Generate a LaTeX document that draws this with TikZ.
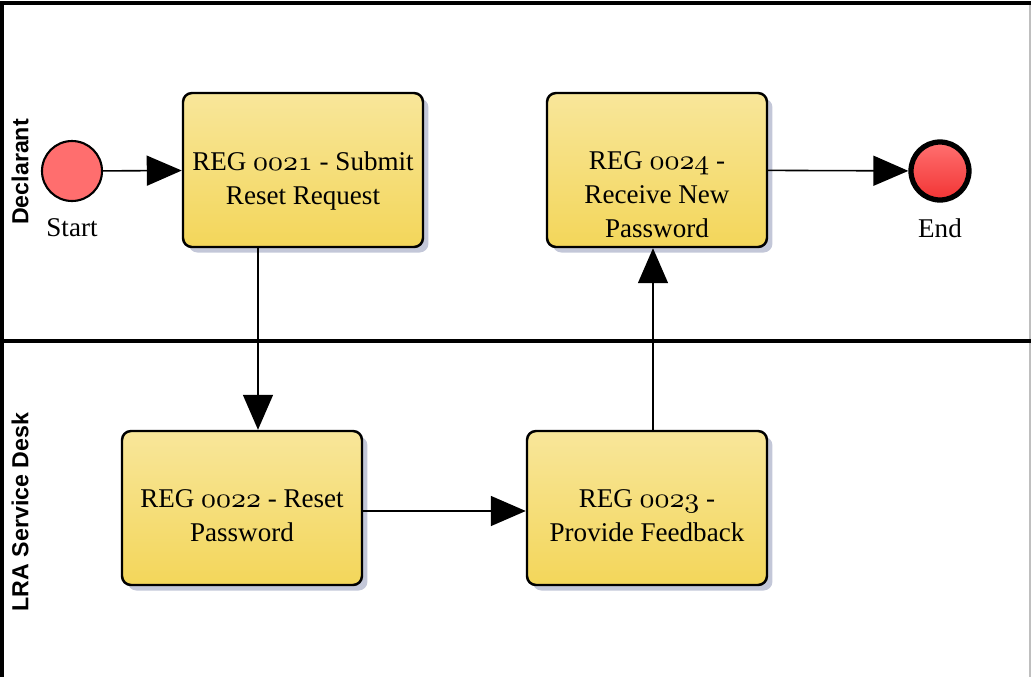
\documentclass[tikz,border=0pt]{standalone}
\usepackage{fontspec}
\setmainfont{Liberation Serif}
\newfontfamily\lanefont{Liberation Sans}
\usepackage{tikz}
\usetikzlibrary{arrows.meta,positioning,shadows}

\newcommand\osdigits[1]{{\usefont{OML}{cmm}{m}{it}#1}}

\definecolor{taskTop}{HTML}{F8E69A}
\definecolor{taskBot}{HTML}{F3D65A}
\definecolor{taskShade}{HTML}{C3C7D8}
\definecolor{startRed}{HTML}{FF6E6E}
\definecolor{endTop}{HTML}{FF7070}
\definecolor{endBot}{HTML}{F23434}

\begin{document}
\begin{tikzpicture}[
    x=0.1mm, y=-0.1mm,
    font=\fontsize{7.7}{9.7}\selectfont,
    task/.style={draw, line width=0.7pt, rounded corners=0.9mm,
      minimum width=24mm, minimum height=15.4mm, top color=taskTop, bottom color=taskBot,
      drop shadow={shadow xshift=0.55mm, shadow yshift=-0.55mm, fill=taskShade, opacity=1},
      label={[tasktext]north:#1}},
    tasktext/.style={anchor=north, align=center, inner sep=0pt, yshift=-5.9mm},
    startev/.style={circle, draw, line width=0.6pt, fill=startRed, minimum size=6mm, inner sep=0pt},
    endev/.style={circle, draw, line width=1.5pt, top color=endTop, bottom color=endBot, minimum size=5.8mm, inner sep=0pt},
    lane/.style={font=\lanefont\bfseries\fontsize{6.6}{8}\selectfont, rotate=90},
    flow/.style={-{Triangle[length=3.5mm, width=3mm]}, line width=0.45pt}
  ]
    % pool and lanes
    \useasboundingbox (0,0) rectangle (1031,677);
    \draw[black!25, line width=0.4pt] (1030,3) -- (1030,677);
    \draw[line width=1pt] (2,680) -- (2,3) -- (1031,3);
    \draw[line width=1pt] (2,341) -- (1031,341);
    \node[lane] (declarant) at (20,172) {Declarant};
    \node[lane] (desk) at (20,512) {LRA Service Desk};

    % events
    \node[startev] (start) at (72,171) {};
    \node[below=0.4mm of start] (startlbl) {Start};
    \node[endev] (end) at (940,171) {};
    \node[below=0.4mm of end] (endlbl) {End};

    % tasks
    \node[task={REG \osdigits{0021} - Submit\\Reset Request}] (submit) at (303,170) {};
    \node[task={REG \osdigits{0024} -\\Receive New\\Password}, minimum width=22mm] (receive) at (657,170) {};
    \node[task={REG \osdigits{0022} - Reset\\Password}] (reset) at (242,508) {};
    \node[task={REG \osdigits{0023} -\\Provide Feedback}] (feedback) at (647,508) {};

    % sequence flows
    \draw[flow] (start) -- (submit);
    \draw[flow] (submit.south -| 258,0) -- (reset.north -| 258,0);
    \draw[flow] (reset.east |- 0,511) -- (feedback.west |- 0,511);
    \draw[flow] (feedback.north -| 653,0) -- (receive.south -| 653,0);
    \draw[flow] (receive) -- (end);
\end{tikzpicture}
\end{document}
